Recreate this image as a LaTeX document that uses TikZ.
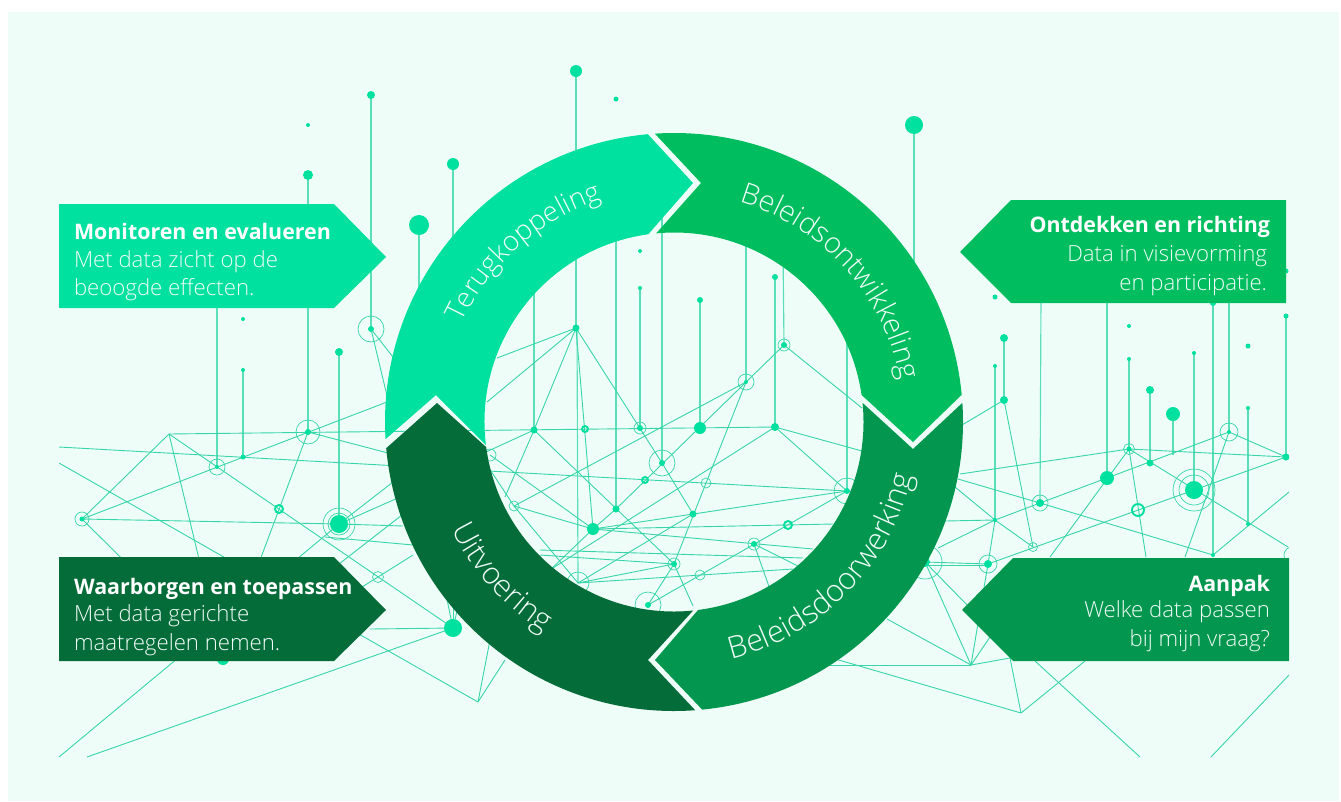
\documentclass[tikz,border=0pt]{standalone}
\usepackage{fontspec}
\setmainfont{Open Sans}
\newfontfamily\lightf{Open Sans Light}
\usetikzlibrary{decorations.text,calc}
\definecolor{panel}{HTML}{EFFDF9}
\definecolor{cA}{HTML}{00E09E}
\definecolor{cB}{HTML}{00BE5F}
\definecolor{cC}{HTML}{03964E}
\definecolor{cD}{HTML}{046C38}
\definecolor{netc}{HTML}{38D5A8}
\definecolor{pinc}{HTML}{5BDFB9}
\definecolor{btxt}{HTML}{F0FCF8}
\tikzset{
  net/.style={draw=netc,line width=0.9pt},
  pin/.style={draw=pinc,line width=1.15pt},
  dotn/.style={circle,fill=cA,inner sep=0pt,outer sep=0pt,draw=none},
  ringn/.style={circle,inner sep=0pt,outer sep=0pt,draw=netc,line width=0.7pt,fill=none},
  thickring/.style={circle,inner sep=0pt,outer sep=0pt,draw=cA,line width=1.9pt,fill=none},
  boxtitle/.style={font=\fontsize{21.4}{24}\selectfont\bfseries,text=white,inner sep=0pt,outer sep=0pt},
  boxbody/.style={font=\lightf\fontsize{22.2}{24}\selectfont,text=btxt,inner sep=0pt,outer sep=0pt},
  ringtext/.style={decorate,decoration={text along path,text align=center,
     text={|\lightf\fontsize{27.6}{30}\selectfont\color{btxt}|#1}}},
  ringtextc/.style={decorate,decoration={text along path,text align=center,
     text={|\lightf\fontsize{28.8}{30}\selectfont\color{btxt}|#1}}},
  ringtextb/.style={decorate,decoration={text along path,text align=center,
     text={|\lightf\fontsize{30.5}{32}\selectfont\color{btxt}|#1}}}
}
\begin{document}
\begin{tikzpicture}[x=1pt,y=-1pt]
\useasboundingbox (0,0) rectangle (1341,801);
\fill[white] (0,0) rectangle (1341,801);
\fill[panel] (8,12) rectangle (1339,801);
\coordinate (c) at (674,422);
% --- network coordinates
\foreach \n/\x/\y in {
 a1/169/434,a2/82/519,a3/217/467,a4/243/457,a5/308/432,a6/279/509,a7/339/524,a8/378/577,a9/453/628,a10/478/702,a11/371/329,a12/223/659,
 l1/59/447,l2/59/463,l3/59/757,l4/87/757,
 b1/534/430,b2/585/429,b3/640/428,b4/700/428,b5/775/427,b6/576/328,b7/784/345,b8/746/382,b9/662/463,b10/645/480,b11/706/483,b12/847/491,
 b13/616/509,b14/693/514,b15/593/529,b16/788/525,b17/754/544,b18/674/564,b19/700/575,b20/578/583,b21/648/605,b22/514/506,b23/490/455,
 c1/925/562,c2/988/564,c3/995/520,c4/1033/547,c5/1040/503,c6/1107/478,c7/1129/449,c8/1150/463,c9/1138/510,c10/1194/490,c11/1229/432,c12/1286/457,c13/1248/524,c14/1213/555,c15/1292/555,c16/1004/400,c17/1021/713,c18/971/665,
 e1/388/453,e2/387/402,e3/393/357,e4/388/400,e5/347/518,e6/393/482,e7/353/520,e8/400/497,e9/403/526,e10/325/537,e11/413/545,e12/330/571,e13/402/515,e14/413/555,e15/362/587,e16/370/629,e17/453/610,e18/445/590,e19/453/590,e20/462/590,e21/490/640,e22/505/660,e23/300/557,e24/847/491,
 f1/497/358,f2/487/402,f3/486/452,f4/505/497,f5/547/573,f6/862/451,f7/862/408,f8/487/465,f9/813/549,f10/833/524,f11/773/598,f12/800/567,f13/693/606,f14/793/569,f15/540/550,f16/803/558,f17/540/555,f18/545/573,f19/487/420,
 g1/960/474,g2/1050/557,g3/1146/557,g4/958/479,g5/1185/557,g6/1289/492,g7/962/425,g8/945/521,g9/938/548,g10/955/487,g11/828/665,g12/887/619,g13/1010/658,g14/990/637,g15/1085/661,g16/1035/661,g17/1140/757,g18/1211/757,g19/1289/675,g20/1288/547,g21/975/613,g22/825/656,
 p1/308/175,p2/371/95,p3/217/300,p4/243/370,p5/339/352,p6/419/225,p7/453/164,p8/576/71,p9/640/288,p10/700/300,p11/662/200,p12/616/200,p13/534/260,p14/577/328,p15/775/277,p16/783/250,p17/746/220,p18/847/300,p19/914/125,p20/1004/338,p21/995/366,p22/1041/295,p23/1107/295,p24/1129/359,p25/1150/390,p26/1173/414,p27/1194/353,p28/1213/303,p29/1229/295,p30/1248/408,p31/1286/316,p32/453/300,p33/419/320,p34/1286/271,p35/914/300,p37/1173/455,
 s1/308/125,s2/243/319,s3/616/99,s4/640/251,s5/995/297,s6/1129/326,s7/1248/346}
 {\coordinate (\n) at (\x,\y);}
\begin{scope}
\clip (59,0) rectangle (1289,757);
% pins
\foreach \a/\b in {p1/a5,p2/a11,p3/a3,p4/a4,p5/a7,p6/p33,p7/p32,p8/b6,p9/b3,p10/b4,p11/b9,p12/b13,p13/b1,p14/b20,p15/b5,p16/b7,p17/b8,p18/b12,p19/p35,p20/c16,p21/c3,p22/c5,p23/c6,p24/c7,p25/c8,p26/p37,p27/c10,p28/c14,p29/c11,p30/c13,p31/c12}
 {\draw[pin] (\a) -- (\b);}
% network lines
\foreach \a/\b in {
 l1/b12,l2/a10,a1/a9,a1/a2,a1/a12,a1/b5,a2/a7,a2/a12,a2/e2,a5/a12,a5/e1,a11/e3,a11/e4,
 l3/a7,a7/e6,a7/e8,a7/e9,e10/e11,e12/e13,a8/e14,a8/e15,e16/a9,l4/a9,a9/e18,a9/e19,a9/e20,a10/e21,a10/e22,
 b6/f1,b6/f2,b6/b1,b6/b15,b6/b9,b1/f3,b1/f4,b1/b18,b13/b15,b15/f5,b13/b7,b9/b14,b15/b12,b14/b20,b8/b18,b18/b21,b18/f13,b5/f18,b5/b12,b5/f6,b7/f7,b8/b22,b22/b15,b22/b20,b22/f8,b23/b15,b15/f9,b15/f10,b21/b12,b17/f11,b17/f12,b18/b20,b20/f14,f15/f16,f17/b18,
 c7/g1,c7/g2,c7/g3,c7/g20,c7/c12,c5/c6,c6/c11,c5/g4,c5/c14,c10/c2,c10/c12,g5/c11,c14/g6,c16/g7,c16/c4,c3/g8,c3/c4,c3/g9,c3/c2,c3/g10,c1/c2,c1/c18,c2/c18,c3/c5,c11/c12,
 c18/g11,c18/g12,c18/g13,c18/g14,c17/g22,c17/g13,c17/g15,g16/g17,g18/g19,c1/g21}
 {\draw[net] (\a) -- (\b);}
\draw[net] ($(c1)+(0,3)$) -- ($(c2)+(0,1)$);
% hollow rings
\foreach \n/\r in {a2/7,a3/8,a5/12,a7/16,a7/11,a8/5.5,a11/13,b3/6,b7/6,b8/8,b9/13,b11/5,b12/13,b17/6,b18/6,b19/5,b20/11,b21/13,b22/5,b23/6,c1/17,c2/9,c4/4.5,c5/8,c7/5.5,c10/15,c10/21,c11/9,c15/8}
 {\node[ringn,minimum size={2*\r}] (r-\n-\r) at (\n) {};}
% thick rings
\foreach \n/\r in {a6/4,b2/3,b10/3,b16/4,c9/6}
 {\node[thickring,minimum size={2*\r}] (t-\n) at (\n) {};}
% dots
\foreach \n/\r in {a2/2.5,a3/2,a4/2.5,a5/3,a7/9,a9/9,a11/3,a12/6,
 b1/3.5,b3/3,b4/6,b5/4,b6/3.5,b7/3,b8/2,b9/3,b12/3,b13/3.5,b14/3.5,b15/6,b17/3,b18/3,b21/3,
 c1/5,c2/4,c3/2,c5/4,c6/7,c7/2.5,c8/3.5,c10/9,c11/2,c12/3.5,c13/2,c14/2,c16/4,
 p1/5,p2/4,p4/2,p5/4,p6/10,p7/6,p8/6,p9/2,p10/3,p15/3,p19/9,p20/4,p21/2,p24/2,p25/4,p26/7,p27/2,p28/3,p30/2,p31/2.5,p34/2.5,
 s1/2,s2/2,s3/2.5,s4/2,s5/2.5,s6/2,s7/2.5}
 {\node[dotn,minimum size={2*\r}] (d-\n) at (\n) {};}
\end{scope}
% --- ring segments
\fill[cA] ($(c)+(176.6:289)$) arc[start angle=176.6,end angle=264.8,radius=289]
  -- (693,183) -- ($(c)+(262.2:189.5)$) arc[start angle=262.2,end angle=173,radius=189.5] -- (436,395) -- cycle;
\fill[cB] ($(c)+(266.2:289)$) arc[start angle=266.2,end angle=354.6,radius=289]
  -- (913,442) -- ($(c)+(351.8:189.5)$) arc[start angle=351.8,end angle=264.6,radius=189.5] -- (701,183) -- cycle;
\fill[cC] ($(c)+(356.2:289)$) arc[start angle=356.2,end angle=444.4,radius=289]
  -- (655,660) -- ($(c)+(442.7:189.5)$) arc[start angle=442.7,end angle=354.2,radius=189.5] -- (913,449) -- cycle;
\fill[cD] ($(c)+(85.8:289)$) arc[start angle=85.8,end angle=174.8,radius=289]
  -- (437,403) -- ($(c)+(172.4:189.5)$) arc[start angle=172.4,end angle=84.2,radius=189.5] -- (648,660) -- cycle;
% --- ring labels
\path[ringtext={Terugkoppeling}] ($(c)+(183.5:234)$) arc[start angle=183.5,end angle=273.5,radius=234];
\path[ringtextc={Beleidsontwikkeling}] ($(c)+(273:230)$) arc[start angle=273,end angle=363,radius=230];
\path[ringtextb={Beleidsdoorwerking}] ($(c)+(89.5:244)$) arc[start angle=89.5,end angle=-0.5,radius=244];
\path[ringtextb={Uitvoering}] ($(c)+(182.5:247)$) arc[start angle=182.5,end angle=93.5,radius=247];
% --- boxes
\coordinate (bA1) at (59,204); \coordinate (bA2) at (334,204); \coordinate (bA3) at (386,257); \coordinate (bA4) at (334,308); \coordinate (bA5) at (59,308);
\coordinate (bD1) at (59,557); \coordinate (bD2) at (334,557); \coordinate (bD3) at (386,610); \coordinate (bD4) at (334,661); \coordinate (bD5) at (59,661);
\coordinate (bB1) at (1286,200); \coordinate (bB2) at (1011,200); \coordinate (bB3) at (960,252); \coordinate (bB4) at (1011,303); \coordinate (bB5) at (1286,303);
\coordinate (bC1) at (1289,558); \coordinate (bC2) at (1013,558); \coordinate (bC3) at (962,610); \coordinate (bC4) at (1013,661); \coordinate (bC5) at (1289,661);
\fill[cA] (bA1) -- (bA2) -- (bA3) -- (bA4) -- (bA5) -- cycle;
\fill[cD] (bD1) -- (bD2) -- (bD3) -- (bD4) -- (bD5) -- cycle;
\fill[cB] (bB1) -- (bB2) -- (bB3) -- (bB4) -- (bB5) -- cycle;
\fill[cC] (bC1) -- (bC2) -- (bC3) -- (bC4) -- (bC5) -- cycle;
% --- box text
\node[boxtitle,anchor=base west] (tA) at (74,239) {Monitoren en evalueren};
\node[boxbody,anchor=base west] (tA1) at (74,267) {Met data zicht op de};
\node[boxbody,anchor=base west] (tA2) at (74,295) {beoogde effecten.};
\node[boxtitle,anchor=base west] (tD) at (74,594) {Waarborgen en toepassen};
\node[boxbody,anchor=base west] (tD1) at (74,621) {Met data gerichte};
\node[boxbody,anchor=base west] (tD2) at (74,650) {maatregelen nemen.};
\node[boxtitle,anchor=base east] (tB) at (1270,232) {Ontdekken en richting};
\node[boxbody,anchor=base east] (tB1) at (1267,261) {Data in visievorming};
\node[boxbody,anchor=base east] (tB2) at (1267,290) {en participatie.};
\node[boxtitle,anchor=base east] (tC) at (1270,591) {Aanpak};
\node[boxbody,anchor=base east] (tC1) at (1270,617) {Welke data passen};
\node[boxbody,anchor=base east] (tC2) at (1270,646) {bij mijn vraag?};
\end{tikzpicture}
\end{document}
